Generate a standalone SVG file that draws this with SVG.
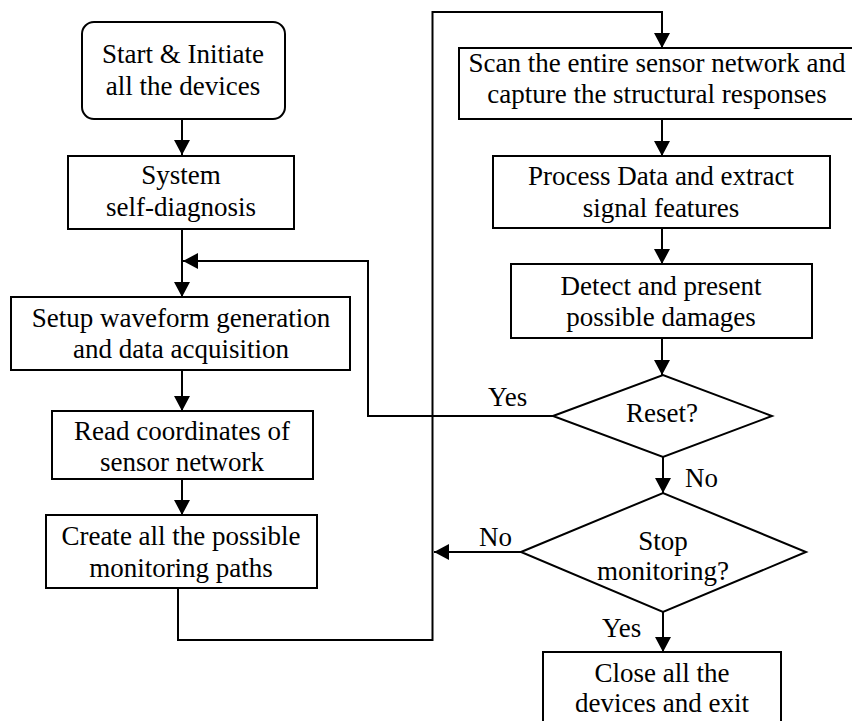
<svg xmlns="http://www.w3.org/2000/svg" width="852" height="721" viewBox="0 0 852 721">
<defs>
<marker id="ah" markerUnits="userSpaceOnUse" markerWidth="16" markerHeight="16" refX="15" refY="8" orient="auto">
<path d="M0,0 L15,8 L0,16 z" fill="#000"/>
</marker>
</defs>
<rect width="852" height="721" fill="#fff"/>
<g id="connectors" fill="none" stroke="#000" stroke-width="2">
<path d="M182,119 V155" marker-end="url(#ah)"/>
<path d="M182,229 V297" marker-end="url(#ah)"/>
<path d="M553,416 H368 V261 H183" marker-end="url(#ah)"/>
<path d="M182,370 V411" marker-end="url(#ah)"/>
<path d="M182,479 V515" marker-end="url(#ah)"/>
<path d="M178,588 V640 H432.5 V12 H662 V48" marker-end="url(#ah)"/>
<path d="M662,119 V156" marker-end="url(#ah)"/>
<path d="M662,228 V264" marker-end="url(#ah)"/>
<path d="M662,338 V375" marker-end="url(#ah)"/>
<path d="M663,457 V493" marker-end="url(#ah)"/>
<path d="M521,552 H434" marker-end="url(#ah)"/>
<path d="M663,612 V652" marker-end="url(#ah)"/>
</g>
<g id="labels" fill="#000">
<text x="488" y="406" font-family="Liberation Serif" font-size="27">Yes</text>
<text x="685" y="487" font-family="Liberation Serif" font-size="27">No</text>
<text x="479" y="546" font-family="Liberation Serif" font-size="27">No</text>
<text x="602" y="637" font-family="Liberation Serif" font-size="27">Yes</text>
</g>
<g id="start">
<rect x="82" y="22" width="203" height="97" rx="12" fill="#fff" stroke="#000" stroke-width="2"/>
<text x="183" y="63" text-anchor="middle" font-family="Liberation Serif" font-size="27">Start &amp; Initiate</text>
<text x="183" y="95" text-anchor="middle" font-family="Liberation Serif" font-size="27">all the devices</text>
</g>
<g id="system">
<rect x="68" y="156" width="226" height="73" fill="#fff" stroke="#000" stroke-width="2"/>
<text x="181" y="184" text-anchor="middle" font-family="Liberation Serif" font-size="27">System</text>
<text x="181" y="216" text-anchor="middle" font-family="Liberation Serif" font-size="27">self-diagnosis</text>
</g>
<g id="setup">
<rect x="11" y="297" width="339" height="73" fill="#fff" stroke="#000" stroke-width="2"/>
<text x="181" y="327" text-anchor="middle" font-family="Liberation Serif" font-size="27">Setup waveform generation</text>
<text x="181" y="358" text-anchor="middle" font-family="Liberation Serif" font-size="27">and data acquisition</text>
</g>
<g id="read">
<rect x="52" y="411" width="261" height="68" fill="#fff" stroke="#000" stroke-width="2"/>
<text x="182" y="440" text-anchor="middle" font-family="Liberation Serif" font-size="27">Read coordinates of</text>
<text x="182" y="471" text-anchor="middle" font-family="Liberation Serif" font-size="27">sensor network</text>
</g>
<g id="create">
<rect x="46" y="515" width="271" height="73" fill="#fff" stroke="#000" stroke-width="2"/>
<text x="181" y="545" text-anchor="middle" font-family="Liberation Serif" font-size="27">Create all the possible</text>
<text x="181" y="577" text-anchor="middle" font-family="Liberation Serif" font-size="27">monitoring paths</text>
</g>
<g id="scan">
<rect x="459" y="48" width="394" height="71" fill="#fff" stroke="#000" stroke-width="2"/>
<text x="657" y="72" text-anchor="middle" font-family="Liberation Serif" font-size="27">Scan the entire sensor network and</text>
<text x="657" y="103" text-anchor="middle" font-family="Liberation Serif" font-size="27">capture the structural responses</text>
</g>
<g id="process">
<rect x="493" y="156" width="337" height="72" fill="#fff" stroke="#000" stroke-width="2"/>
<text x="661" y="185" text-anchor="middle" font-family="Liberation Serif" font-size="27">Process Data and extract</text>
<text x="661" y="217" text-anchor="middle" font-family="Liberation Serif" font-size="27">signal features</text>
</g>
<g id="detect">
<rect x="511" y="264" width="301" height="74" fill="#fff" stroke="#000" stroke-width="2"/>
<text x="661" y="295" text-anchor="middle" font-family="Liberation Serif" font-size="27">Detect and present</text>
<text x="661" y="326" text-anchor="middle" font-family="Liberation Serif" font-size="27">possible damages</text>
</g>
<g id="reset">
<polygon points="553,416 663,375 772,416 663,457" fill="#fff" stroke="#000" stroke-width="2"/>
<text x="662" y="422" text-anchor="middle" font-family="Liberation Serif" font-size="27">Reset?</text>
</g>
<g id="stop">
<polygon points="521,552 663,493 806,552 663,612" fill="#fff" stroke="#000" stroke-width="2"/>
<text x="663" y="550" text-anchor="middle" font-family="Liberation Serif" font-size="27">Stop</text>
<text x="663" y="580" text-anchor="middle" font-family="Liberation Serif" font-size="27">monitoring?</text>
</g>
<g id="close">
<rect x="543" y="652" width="238" height="80" fill="#fff" stroke="#000" stroke-width="2"/>
<text x="662" y="682" text-anchor="middle" font-family="Liberation Serif" font-size="27">Close all the</text>
<text x="662" y="712" text-anchor="middle" font-family="Liberation Serif" font-size="27">devices and exit</text>
</g>
</svg>
